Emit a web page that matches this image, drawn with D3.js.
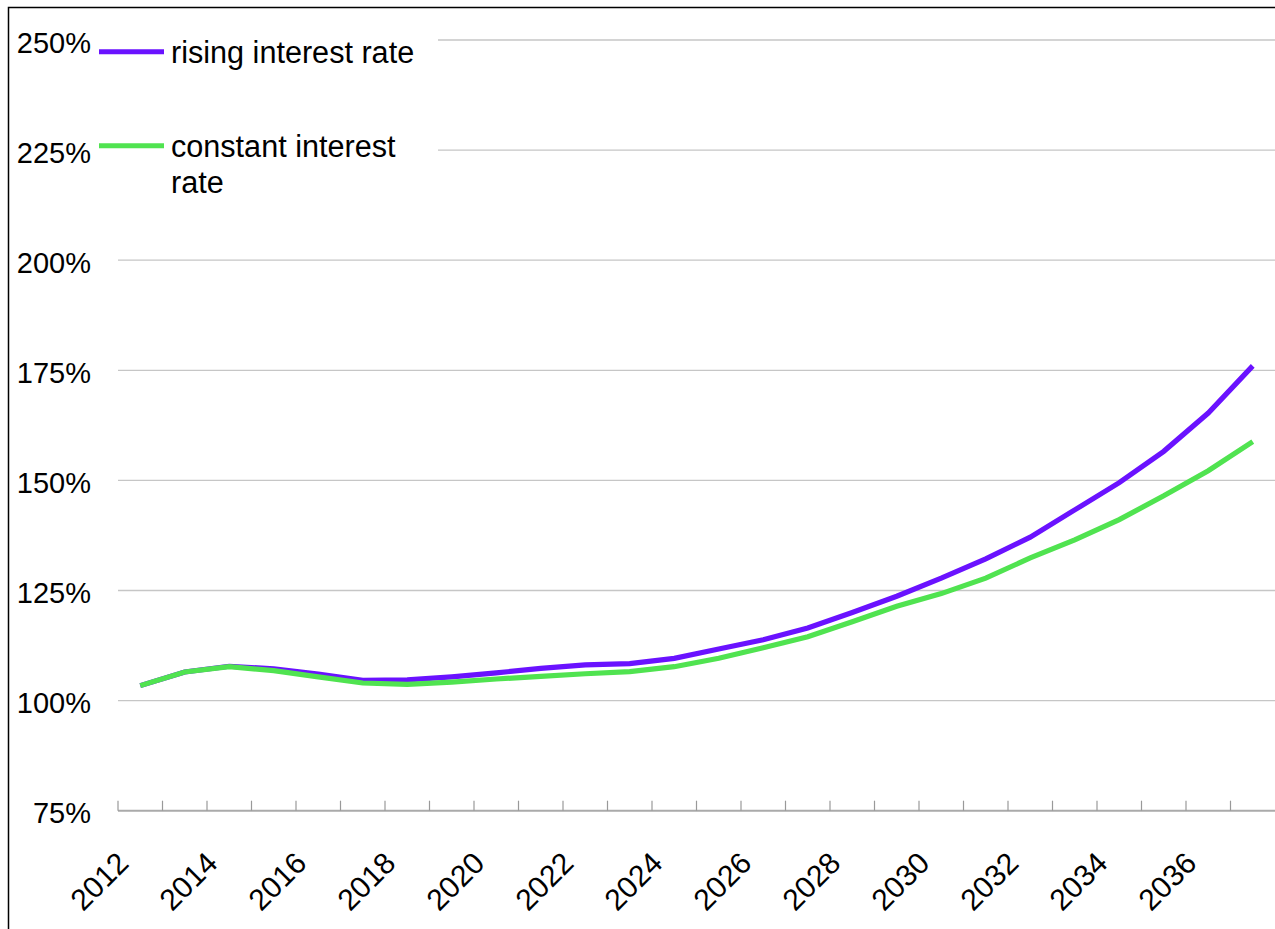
<!DOCTYPE html>
<html>
<head>
<meta charset="utf-8">
<script src="https://cdn.jsdelivr.net/npm/d3@7"></script>
<style>
  html, body { margin: 0; padding: 0; background: #fff; }
  svg { display: block; font-family: "Liberation Sans", Arial, sans-serif; }
</style>
</head>
<body>
<svg id="chart" width="1275" height="929"></svg>
<script>
// Years on the category axis
const years = [2012, 2013, 2014, 2015, 2016, 2017, 2018, 2019, 2020, 2021, 2022, 2023, 2024,
               2025, 2026, 2027, 2028, 2029, 2030, 2031, 2032, 2033, 2034, 2035, 2036, 2037];

// Debt ratio (% of base) under each interest-rate scenario
const risingRate = [103.4, 106.5, 107.8, 107.2, 106.0, 104.6, 104.7, 105.4, 106.3, 107.3, 108.1, 108.4, 109.6,
                    111.7, 113.8, 116.5, 120.0, 123.7, 127.8, 132.2, 137.1, 143.3, 149.5, 156.6, 165.3, 176.0];
const constantRate = [103.4, 106.5, 107.7, 106.8, 105.4, 104.0, 103.7, 104.2, 104.9, 105.5, 106.1, 106.6, 107.7,
                      109.6, 112.0, 114.5, 117.9, 121.4, 124.3, 127.8, 132.4, 136.5, 141.1, 146.5, 152.2, 158.8];

// Value-axis ticks and the labelled years
const yTicks = [75, 100, 125, 150, 175, 200, 225, 250];
const labelYears = [2012, 2014, 2016, 2018, 2020, 2022, 2024, 2026, 2028, 2030, 2032, 2034, 2036];

const seriesNames = ["rising interest rate", "constant interest rate"];
const seriesColors = ["#6a12ff", "#50e350"];

const svg = d3.select("#chart");

const x = d3.scaleBand().domain(years).range([118, 1275]).paddingInner(0).paddingOuter(0);
const y = d3.scaleLinear().domain([75, 250]).range([810.7, 40]);
const cx = d => x(d) + x.bandwidth() / 2;

// Outer frame
svg.append("rect")
  .attr("x", 8.5).attr("y", 7.5)
  .attr("width", 1400).attr("height", 1000)
  .attr("fill", "none").attr("stroke", "#000").attr("stroke-width", 1.5);

// Horizontal gridlines
svg.append("g").selectAll("line")
  .data(yTicks.filter(v => v > 75))
  .join("line")
  .attr("x1", 118).attr("x2", 1275)
  .attr("y1", d => y(d)).attr("y2", d => y(d))
  .attr("stroke", "#c6c6c6").attr("stroke-width", 1.3);

// Value axis labels
svg.append("g").selectAll("text")
  .data(yTicks)
  .join("text")
  .attr("x", 91).attr("y", d => y(d) + 12.5)
  .attr("text-anchor", "end")
  .attr("font-size", 29)
  .attr("fill", "#000")
  .text(d => d + "%");

// Category axis line with tick marks on band edges
const axisG = svg.append("g");
axisG.append("line")
  .attr("x1", 118).attr("x2", 1275)
  .attr("y1", y(75)).attr("y2", y(75))
  .attr("stroke", "#aaaaaa").attr("stroke-width", 2);
axisG.selectAll("line.tick")
  .data(years)
  .join("line")
  .attr("class", "tick")
  .attr("x1", d => x(d)).attr("x2", d => x(d))
  .attr("y1", y(75) - 10).attr("y2", y(75))
  .attr("stroke", "#999").attr("stroke-width", 1.2);

// Rotated year labels
axisG.selectAll("text")
  .data(labelYears)
  .join("text")
  .attr("transform", d => `translate(${cx(d) - 10},${865}) rotate(-45)`)
  .attr("text-anchor", "end")
  .attr("font-size", 30)
  .attr("fill", "#000")
  .text(d => d);

// Legend background hides gridlines behind it
svg.append("rect")
  .attr("x", 95).attr("y", 20)
  .attr("width", 343).attr("height", 185)
  .attr("fill", "#fff");

// Series lines
const line = d3.line().x((d, i) => cx(years[i])).y(d => y(d));
[risingRate, constantRate].forEach((vals, k) => {
  svg.append("path")
    .datum(vals)
    .attr("d", line)
    .attr("fill", "none")
    .attr("stroke", seriesColors[k])
    .attr("stroke-width", 5.2);
});

// Legend
const legend = svg.append("g");
const legendRows = [
  { ly: 51.7, lines: ["rising interest rate"], ty: 63.3 },
  { ly: 145.7, lines: ["constant interest", "rate"], ty: 156.7 }
];
legendRows.forEach((r, k) => {
  legend.append("line")
    .attr("x1", 99).attr("x2", 164)
    .attr("y1", r.ly).attr("y2", r.ly)
    .attr("stroke", seriesColors[k]).attr("stroke-width", 5);
  const t = legend.append("text")
    .attr("x", 171).attr("y", r.ty)
    .attr("font-size", 30.6)
    .attr("fill", "#000");
  r.lines.forEach((s, j) => {
    t.append("tspan").attr("x", 171).attr("dy", j === 0 ? 0 : 36.6).text(s);
  });
});
</script>
</body>
</html>
